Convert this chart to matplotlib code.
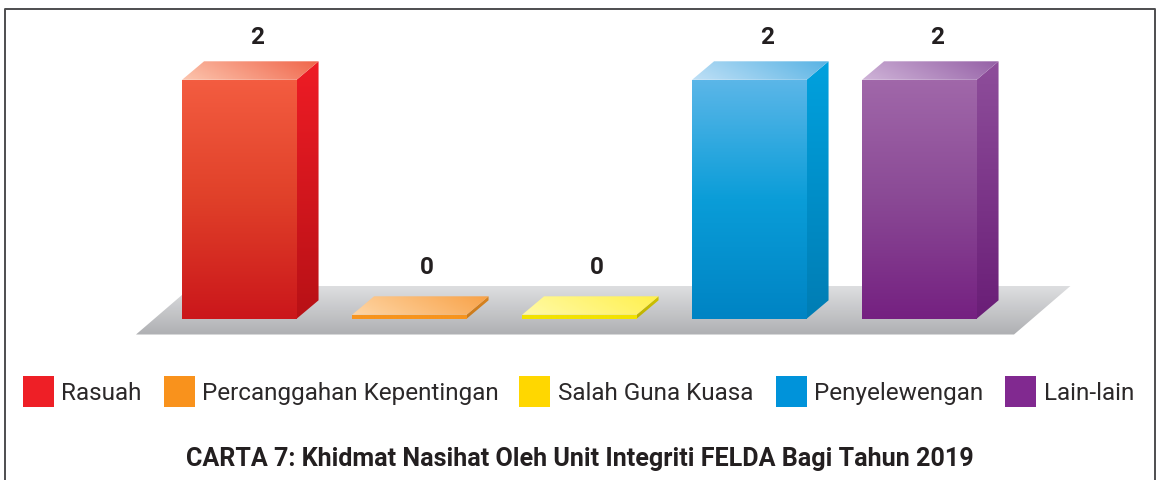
#!/usr/bin/python
import numpy as np
import matplotlib
matplotlib.use('Agg')
import matplotlib.pyplot as plt
from matplotlib.colors import LinearSegmentedColormap
from matplotlib.patches import Polygon, Rectangle

# chart data
categories = ['Rasuah', 'Percanggahan Kepentingan', 'Salah Guna Kuasa', 'Penyelewengan', 'Lain-lain']
values = [2, 0, 0, 2, 2]
title = 'CARTA 7: Khidmat Nasihat Oleh Unit Integriti FELDA Bagi Tahun 2019'

# colours per bar
legend_colors = ['#EE1F26', '#F9921C', '#FFD700', '#0093DA', '#812990']
front_colors = [['#F35C40', '#E04029', '#CB171B'],
                ['#F7941D', '#F7941D'],
                ['#F2E200', '#F2E200'],
                ['#5AB6E8', '#0A9DD8', '#0084C4'],
                ['#A067A9', '#8A4995', '#752181']]
side_colors = [['#EE1C25', '#B81116'], ['#D98320', '#C97A1C'], ['#CFC200', '#BDB100'],
               ['#00A1DE', '#007DB4'], ['#8E4E9B', '#6A1E77']]
top_colors = [['#FCC5AE', '#F0654A'], ['#FED6A6', '#F8A248'], ['#FFFAA8', '#FFF04E'],
              ['#BFE0F6', '#58B3E4'], ['#CFB4D8', '#9560A6']]
floor_colors = ['#DDDEE0', '#AFB0B3']

W, H = 1157, 481
PX_X = 170.0    # pixels per category
PX_Y = 119.5    # pixels per unit of value
X0, Y0 = 239.3, 319.8   # pixel of category 0, value 0
BAR_W = 114.5 / PX_X
DX, DY = 22 / PX_X, 18.5 / PX_Y
SLAB = 4 / PX_Y

fig = plt.figure(figsize=(W / 100, H / 100), dpi=100, facecolor='white')
ax = fig.add_axes([0, 0, 1, 1])
xlim = (-X0 / PX_X, (W - X0) / PX_X)
ylim = ((Y0 - H) / PX_Y, Y0 / PX_Y)
ax.axis('off')


def gradient(points, colors, mode='v', z=1):
    # paint a gradient and clip it to a polygon
    points = np.array(points)
    cmap = LinearSegmentedColormap.from_list('g', colors)
    tx, ty = np.meshgrid(np.linspace(0, 1, 64), np.linspace(0, 1, 64))
    t = ty if mode == 'v' else (tx * 0.8 + (1 - ty) * 0.2)
    im = ax.imshow(t, cmap=cmap, vmin=0, vmax=1, aspect='auto', interpolation='bilinear', origin='upper',
                   extent=(points[:, 0].min(), points[:, 0].max(), points[:, 1].min(), points[:, 1].max()), zorder=z)
    poly = Polygon(points, closed=True, transform=ax.transData, facecolor='none', edgecolor='none')
    ax.add_patch(poly)
    im.set_clip_path(poly)


def fx(px):
    return (px - X0) / PX_X


def fy(py):
    return (Y0 - py) / PX_Y


# floor under the bars
gradient([(fx(136), fy(335.5)), (fx(1014), fy(335.5)), (fx(1071), fy(286.5)), (fx(193), fy(286.5))], floor_colors)

for i, v in enumerate(values):
    h = max(v, SLAB)
    l, r = i - BAR_W / 2, i + BAR_W / 2
    gradient([(l, 0), (r, 0), (r, h), (l, h)], front_colors[i], z=2)
    gradient([(r, 0), (r + DX, DY), (r + DX, h + DY), (r, h)], side_colors[i], z=2)
    gradient([(l, h), (r, h), (r + DX, h + DY), (l + DX, h + DY)], top_colors[i], mode='d', z=2)
    ax.annotate(str(v), (i + DX * 0.8, h + DY), xytext=(0, 13.5 if v else 16.5), textcoords='offset points',
                ha='center', va='baseline', fontsize=17.5, fontweight='bold', family='Roboto',
                color='#231F20', zorder=3)

ax.set_xlim(xlim)
ax.set_ylim(ylim)

# legend
swatch_x = [23, 164, 519, 776, 1005]
text_x = [61, 202, 558, 814, 1044]
for sx, tx, c, name in zip(swatch_x, text_x, legend_colors, categories):
    fig.add_artist(Rectangle((sx / W, 1 - 408 / H), 31 / W, 31 / H, transform=fig.transFigure,
                             facecolor=c, edgecolor='none'))
    fig.text(tx / W, 1 - 400 / H, name, fontsize=17.5, family='Roboto', color='#2B2829', va='baseline', ha='left')

# caption
fig.text(579.5 / W, 1 - 466 / H, title, fontsize=18.1, family='Roboto', fontweight='bold',
         color='#231F20', ha='center', va='baseline')

# frame, open at the bottom
fig.add_artist(plt.Line2D([4.5 / W, 4.5 / W, 1155 / W, 1155 / W], [0, 1 - 9.5 / H, 1 - 9.5 / H, 0],
                          color='#4D4D4F', lw=1.4, transform=fig.transFigure))

fig.savefig('out.png', dpi=100)
